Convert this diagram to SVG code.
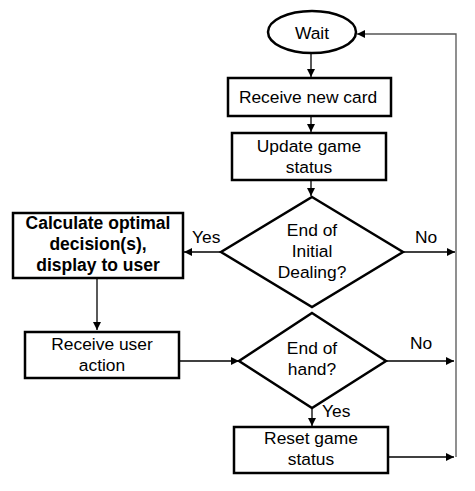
<svg xmlns="http://www.w3.org/2000/svg" width="475" height="491" viewBox="0 0 475 491">
<defs>
<marker id="ah" viewBox="0 0 10 10" refX="10" refY="5" markerWidth="8" markerHeight="8" markerUnits="userSpaceOnUse" orient="auto">
<path d="M0,0 L10,5 L0,10 z" fill="#000"/>
</marker>
</defs>
<style>
.n{fill:#fff;stroke:#000;stroke-width:2.5}
.t{font-family:"Liberation Sans",Arial,sans-serif;font-size:17.4px;fill:#000;text-anchor:middle}
.b{font-weight:bold;font-size:17.5px}
.c{fill:none;stroke:#000;stroke-width:1.3}
.g{stroke:#555}
.l{font-family:"Liberation Sans",Arial,sans-serif;font-size:17.4px;fill:#000}
</style>
<rect width="475" height="491" fill="#fff"/>
<g id="connectors">
<path class="c g" d="M456,457 V34 H357" marker-end="url(#ah)"/>
<path class="c" d="M311,54 V77" marker-end="url(#ah)"/>
<path class="c" d="M311,117 V132" marker-end="url(#ah)"/>
<path class="c" d="M311,181 V196" marker-end="url(#ah)"/>
<path class="c" d="M221,252 H184" marker-end="url(#ah)"/>
<path class="c" d="M403,252 H455" marker-end="url(#ah)"/>
<path class="c" d="M97,279 V330" marker-end="url(#ah)"/>
<path class="c" d="M180,361 H239" marker-end="url(#ah)"/>
<path class="c" d="M386,361 H454" marker-end="url(#ah)"/>
<path class="c" d="M312,408 V426" marker-end="url(#ah)"/>
<path class="c" d="M389,457 H454" marker-end="url(#ah)"/>
<text class="l" x="192" y="243">Yes</text>
<text class="l" x="415" y="243">No</text>
<text class="l" x="410" y="349">No</text>
<text class="l" x="322" y="417">Yes</text>
</g>
<g id="wait">
<ellipse class="n" cx="312" cy="32" rx="44" ry="21"/>
<text class="t" x="312" y="39">Wait</text>
</g>
<g id="receive-card">
<rect class="n" x="228" y="78" width="163" height="38"/>
<text class="t" x="308" y="103">Receive new card</text>
</g>
<g id="update-status">
<rect class="n" x="232" y="133" width="154" height="47"/>
<text class="t" x="309" y="152">Update game</text>
<text class="t" x="309" y="173">status</text>
</g>
<g id="end-initial">
<polygon class="n" points="312,197 403,252 312,307 221,252"/>
<text class="t" x="312" y="236">End of</text>
<text class="t" x="312" y="257">Initial</text>
<text class="t" x="312" y="278">Dealing?</text>
</g>
<g id="calculate">
<rect class="n" x="13" y="213" width="170" height="65"/>
<text class="t b" x="98" y="229">Calculate optimal</text>
<text class="t b" x="98" y="250">decision(s),</text>
<text class="t b" x="98" y="271">display to user</text>
</g>
<g id="receive-action">
<rect class="n" x="25" y="332" width="154" height="46"/>
<text class="t" x="102" y="350">Receive user</text>
<text class="t" x="102" y="371">action</text>
</g>
<g id="end-hand">
<polygon class="n" points="312,313 386,361 312,408 239,361"/>
<text class="t" x="312" y="354">End of</text>
<text class="t" x="312" y="375">hand?</text>
</g>
<g id="reset">
<rect class="n" x="234" y="427" width="154" height="46"/>
<text class="t" x="311" y="444">Reset game</text>
<text class="t" x="311" y="465">status</text>
</g>
</svg>
